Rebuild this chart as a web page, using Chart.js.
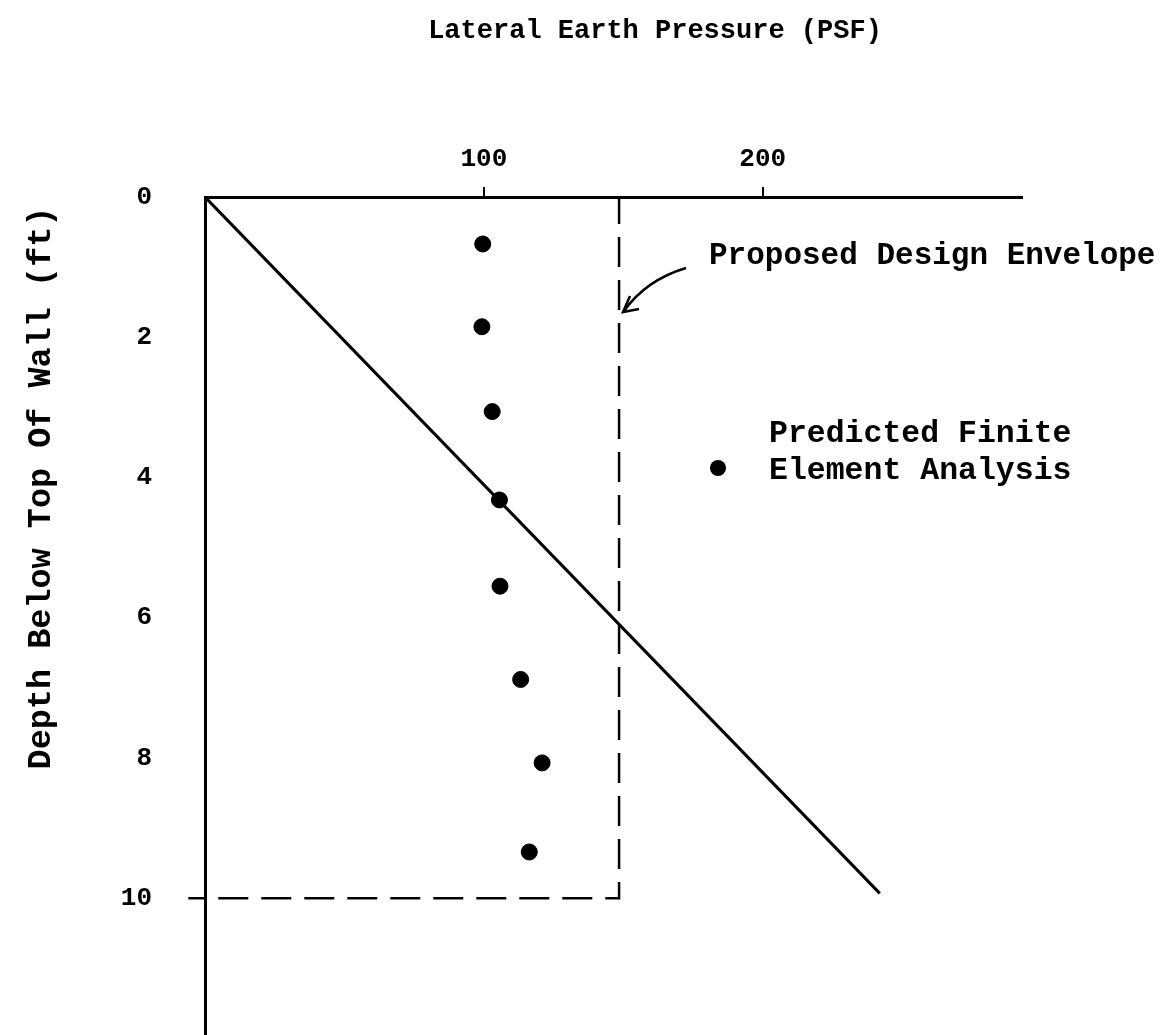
<!DOCTYPE html>
<html>
<head>
<meta charset="utf-8">
<script src="https://cdn.jsdelivr.net/npm/chart.js@4.4.1/dist/chart.umd.min.js"></script>
<style>
  html, body { margin: 0; padding: 0; background: #ffffff; }
  #wrap { width: 1170px; height: 1035px; position: relative; }
</style>
</head>
<body>
<div id="wrap"><canvas id="c" width="1170" height="1035"></canvas></div>
<script>
// ---- data ----
const pressureTicks = [100, 200];
const depthTicks = [0, 2, 4, 6, 8, 10];
const fePressure = [99.6, 99.3, 103.0, 105.6, 105.8, 113.2, 120.9, 116.3];
const feDepth = [0.67, 1.85, 3.06, 4.32, 5.55, 6.88, 8.07, 9.34];
const linePressure = [0, 242];
const lineDepth = [0, 9.93];
const envelopePressure = [-6, 148.5, 148.5];
const envelopeDepth = [10, 10, 0];

const xTitle = 'Lateral Earth Pressure (PSF)';
const yTitle = 'Depth Below Top Of Wall (ft)';
const envelopeLabel = 'Proposed Design Envelope';
const feLabel = ['Predicted Finite', 'Element Analysis'];

const FONT = "'Liberation Mono', 'DejaVu Sans Mono', monospace";

const zip = (xs, ys) => xs.map((x, i) => ({ x: x, y: ys[i] }));

const annotations = {
  id: 'annotations',
  afterDraw(chart) {
    const ctx = chart.ctx;
    ctx.save();
    ctx.fillStyle = '#000';
    ctx.strokeStyle = '#000';
    ctx.textBaseline = 'middle';
    // x title
    ctx.font = 'bold 27px ' + FONT;
    ctx.textAlign = 'center';
    ctx.fillText(xTitle, 655, 31);
    // y title
    ctx.save();
    ctx.translate(42, 488);
    ctx.rotate(-Math.PI / 2);
    ctx.font = 'bold 33.5px ' + FONT;
    ctx.fillText(yTitle, 0, 0);
    ctx.restore();
    // envelope label
    ctx.textAlign = 'left';
    ctx.font = 'bold 31px ' + FONT;
    ctx.fillText(envelopeLabel, 709, 256);
    // arrow
    ctx.lineWidth = 2.5;
    ctx.beginPath();
    ctx.moveTo(686, 268);
    ctx.quadraticCurveTo(646, 280, 624, 311);
    ctx.stroke();
    ctx.beginPath();
    ctx.moveTo(630, 296);
    ctx.lineTo(623, 312);
    ctx.lineTo(639, 309);
    ctx.stroke();
    // FE legend
    ctx.font = 'bold 31.5px ' + FONT;
    ctx.fillText(feLabel[0], 769, 434);
    ctx.fillText(feLabel[1], 769, 471);
    ctx.beginPath();
    ctx.arc(718, 468, 8, 0, Math.PI * 2);
    ctx.fill();
    ctx.restore();
  }
};

new Chart(document.getElementById('c'), {
  type: 'scatter',
  data: {
    datasets: [
      {
        label: 'Linear',
        type: 'line',
        data: zip(linePressure, lineDepth),
        borderColor: '#000',
        borderWidth: 3,
        pointRadius: 0,
        fill: false,
        tension: 0
      },
      {
        label: 'Envelope',
        type: 'line',
        data: zip(envelopePressure, envelopeDepth),
        borderColor: '#000',
        borderWidth: 2.5,
        borderDash: [30, 13],
        borderDashOffset: 13,
        pointRadius: 0,
        fill: false,
        tension: 0,
        clip: false
      },
      {
        label: 'Predicted Finite Element Analysis',
        data: zip(fePressure, feDepth),
        backgroundColor: '#000',
        borderColor: '#000',
        pointRadius: 8,
        borderWidth: 1
      }
    ]
  },
  options: {
    responsive: false,
    animation: false,
    devicePixelRatio: 1,
    layout: { autoPadding: false, padding: { left: 0, top: 0, right: 148, bottom: 0 } },
    plugins: { legend: { display: false }, tooltip: { enabled: false } },
    scales: {
      x: {
        type: 'linear',
        position: 'top',
        min: 0,
        max: 293,
        afterFit(s) { s.height = 197; s.paddingLeft = 0; s.paddingRight = 0; },
        afterBuildTicks(s) { s.ticks = pressureTicks.map(v => ({ value: v })); },
        grid: { display: true, drawOnChartArea: false, drawTicks: true, tickLength: 10, color: '#000', lineWidth: 2 },
        border: { display: true, color: '#000', width: 3 },
        ticks: { color: '#000', font: { family: FONT, size: 26, weight: 'bold' }, padding: 12, maxRotation: 0 }
      },
      y: {
        type: 'linear',
        position: 'left',
        reverse: true,
        min: 0,
        max: 11.95,
        afterFit(s) { s.width = 205; s.paddingTop = 0; s.paddingBottom = 0; },
        afterBuildTicks(s) { s.ticks = depthTicks.map(v => ({ value: v })); },
        grid: { display: false, drawTicks: false },
        border: { display: true, color: '#000', width: 3 },
        ticks: { color: '#000', font: { family: FONT, size: 26, weight: 'bold' }, padding: 53 }
      }
    }
  },
  plugins: [annotations]
});
</script>
</body>
</html>
